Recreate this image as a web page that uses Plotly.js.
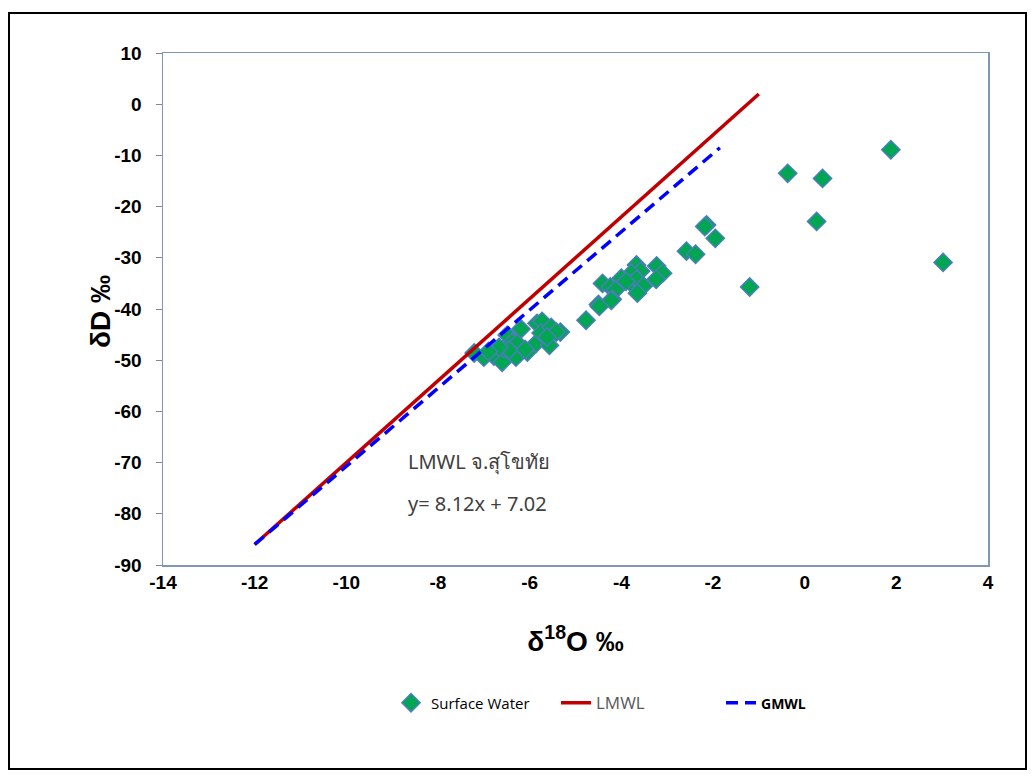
<!DOCTYPE html>
<html>
<head>
<meta charset="utf-8">
<script src="https://cdn.plot.ly/plotly-3.0.1.min.js"></script>
<style>
html,body{margin:0;padding:0;background:#fff;}
#chart{width:1035px;height:776px;}
</style>
</head>
<body>
<div id="chart"></div>
<script>
// Surface water samples (δ18O, δD)
const swX = [1.88, -0.37, 0.39, 0.26, 3.02, -1.2, -2.14, -2.18, -1.95, -2.58, -2.38,
  -3.67, -3.58, -3.23, -3.10, -3.24, -3.78, -4.0, -4.41, -4.24, -4.13, -3.78, -3.67, -3.52, -3.65, -4.2, -4.5, -3.9,
  -4.48, -4.22, -4.77, -5.33,
  -7.21, -7.0, -6.78, -6.6, -6.56, -6.49, -6.38, -6.27, -6.3, -6.19, -6.05, -5.86, -5.84, -5.73, -5.75, -5.53, -5.42, -5.57, -5.62, -6.45, -6.67, -6.9, -6.1];
const swY = [-8.9, -13.5, -14.5, -22.9, -30.9, -35.7, -23.6, -23.9, -26.2, -28.7, -29.3,
  -31.4, -32.6, -31.6, -33.0, -34.2, -33.0, -34.0, -35.0, -35.7, -36.3, -35.0, -34.2, -35.5, -36.9, -38.1, -39.1, -34.6,
  -39.5, -38.3, -42.2, -44.5,
  -48.6, -49.4, -49.2, -50.4, -47.7, -45.1, -46.5, -46.7, -49.4, -43.9, -48.4, -46.7, -42.8, -42.4, -44.7, -43.6, -44.5, -47.1, -45.5, -48.0, -47.5, -48.3, -47.9];
// Local meteoric water line endpoints
const lmwlX = [-12, -1];
const lmwlY = [-86, 2];
// Global meteoric water line endpoints
const gmwlX = [-12, -1.85];
const gmwlY = [-86, -8.5];
const xTicks = [-14, -12, -10, -8, -6, -4, -2, 0, 2, 4];
const yTicks = [10, 0, -10, -20, -30, -40, -50, -60, -70, -80, -90];

const traces = [
  {x: swX, y: swY, type: 'scatter', mode: 'markers', name: 'Surface Water',
   marker: {symbol: 'diamond', size: 14, color: '#00A651', line: {color: '#4A7EBB', width: 1.5}}},
  {x: lmwlX, y: lmwlY, type: 'scatter', mode: 'lines', name: '<span style="color:#595959;font-size:17px">LMWL</span>',
   line: {color: '#C00000', width: 3.5}},
  {x: gmwlX, y: gmwlY, type: 'scatter', mode: 'lines', name: '<span style="font-size:14px;font-weight:bold">GMWL</span>',
   line: {color: '#0000FF', width: 3.5, dash: '12px,7px'}}
];

const W = 825, H = 512, L = 163, T = 53;
function px(p){return (p - L) / W;}
function py(p){return (T + H - p) / H;}

const layout = {
  width: 1035, height: 776,
  margin: {l: 163, r: 47, t: 53, b: 211},
  paper_bgcolor: '#fff', plot_bgcolor: '#fff',
  font: {family: 'Liberation Sans, Arial, sans-serif', color: '#000'},
  showlegend: true,
  legend: {orientation: 'h', x: px(391), xanchor: 'left', y: py(703), yanchor: 'middle',
    font: {size: 15, family: 'Open Sans, sans-serif', color: '#000'}, itemwidth: 30, entrywidth: 120, entrywidthmode: 'pixels'},
  xaxis: {range: [-14, 4], tickvals: xTicks, ticktext: xTicks.map(String), showgrid: false, zeroline: false,
    showline: true, linecolor: '#8096b8', linewidth: 1.5, mirror: true, ticks: '',
    tickfont: {size: 19, family: 'Liberation Sans, Arial, sans-serif', weight: 'bold'},
    title: {text: 'δ<sup>18</sup>O ‰', font: {size: 28, weight: 'bold'}, standoff: 39}},
  yaxis: {range: [-90, 10], tickvals: yTicks, ticktext: yTicks.map(String), showgrid: false, zeroline: false,
    showline: true, linecolor: '#8096b8', linewidth: 1.5, mirror: true, ticks: 'outside', ticklen: 6, tickcolor: '#888',
    ticklabelstandoff: 10,
    tickfont: {size: 19, family: 'Liberation Sans, Arial, sans-serif', weight: 'bold'}},
  annotations: [
    {xref: 'paper', yref: 'paper', x: px(100), y: py(312), xanchor: 'center', yanchor: 'middle', showarrow: false,
     textangle: -90, text: 'δD ‰', font: {size: 28, color: '#000', weight: 'bold', family: 'Liberation Sans, Arial, sans-serif'}},
    {xref: 'paper', yref: 'paper', x: px(406), y: py(461), xanchor: 'left', yanchor: 'middle', showarrow: false,
     text: 'LMWL จ.สุโขทัย', font: {size: 20, color: '#404040', family: 'Noto Sans, sans-serif'}},
    {xref: 'paper', yref: 'paper', x: px(406), y: py(503), xanchor: 'left', yanchor: 'middle', showarrow: false,
     text: 'y= 8.12x + 7.02', font: {size: 20, color: '#404040', family: 'Noto Sans, sans-serif'}}
  ],
  shapes: [
    {type: 'rect', xref: 'paper', yref: 'paper', x0: px(9), x1: px(1026), y0: py(13), y1: py(769),
     line: {color: '#000', width: 2}, fillcolor: 'rgba(0,0,0,0)', layer: 'above'}
  ]
};

Plotly.newPlot('chart', traces, layout, {displayModeBar: false, staticPlot: true});
</script>
</body>
</html>
